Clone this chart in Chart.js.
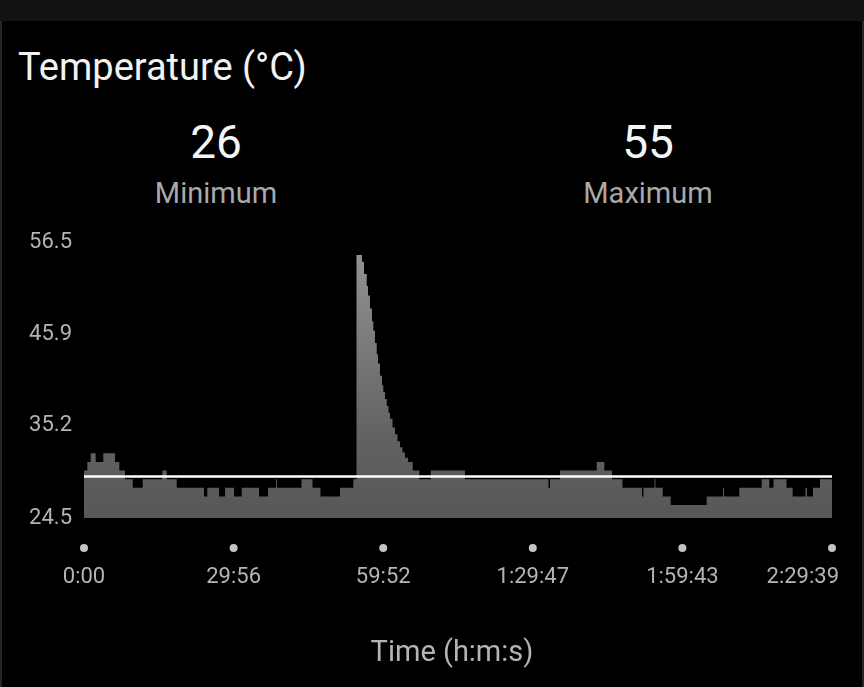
<!DOCTYPE html>
<html lang="en">
<head>
  <meta charset="UTF-8">
  <title>Temperature</title>
  <style>
    body {
      margin: 0;
      width: 864px;
      height: 687px;
      overflow: hidden;
      position: relative;
      background: #000;
      font-family: 'Roboto', sans-serif;
    }
    .topbar {
      position: absolute; left: 0; top: 0;
      width: 864px; height: 21px;
      background: #121212;
    }
    .edge {
      position: absolute; top: 21px; bottom: 0; width: 2px;
      background: #262626;
    }
    .titulo {
      position: absolute; left: 18px; top: 44px;
      font-size: 38px; line-height: 46px;
      color: #f2f2f2;
    }
    .stat {
      position: absolute; top: 116px; width: 432px;
      text-align: center;
    }
    .stat .num { font-size: 46px; line-height: 52px; color: #f5f5f5; }
    .stat .lab { font-size: 29px; line-height: 32px; color: #a9a9a9; margin-top: 9px; }
    .xtitle {
      position: absolute; left: 0; width: 904px; top: 634px;
      text-align: center;
      font-size: 29px; line-height: 34px; color: #b4b4b4;
    }
    #grafico { position: absolute; left: 0; top: 225px; }
  </style>
  <script src="https://cdn.jsdelivr.net/npm/chart.js"></script>
</head>
<body>
  <div class="topbar"></div>
  <div class="edge" style="left:0"></div>
  <div class="edge" style="right:0"></div>
  <div class="titulo">Temperature (°C)</div>
  <div class="stat" style="left:0"><div class="num">26</div><div class="lab">Minimum</div></div>
  <div class="stat" style="left:432px"><div class="num">55</div><div class="lab">Maximum</div></div>
  <canvas id="grafico" width="864" height="462"></canvas>
  <div class="xtitle">Time (h:m:s)</div>

  <script>
    // tiempos (s) donde cambia la lectura, y el valor que se mantiene desde ahi
    const tiempos = [0, 40, 80, 140, 232, 372, 424, 492, 585, 705, 940, 993, 1113, 1440, 1480, 1621, 1693, 1801, 1893, 2101,
      2209, 2305, 2317, 2611, 2743, 2839, 3073, 3233, 3271, 3337, 3361, 3394, 3409, 3433, 3457, 3473, 3493, 3514, 3529,
      3553, 3577, 3593, 3613, 3634, 3655, 3673, 3703, 3733, 3763, 3793, 3823, 3853, 3889, 3946, 4025, 4162, 4573, 5576,
      5594, 5714, 6155, 6246, 6338, 6464, 6698, 6716, 6848, 6860, 6947, 7043, 7475, 7671, 7683, 7866, 8135, 8226, 8277,
      8433, 8507, 8661, 8679, 8751, 8835, 8979];
    const temperaturas = [30, 31, 32, 31, 32, 31, 30, 29, 28, 29, 30, 29, 28, 27, 28, 27, 28, 27, 28, 27,
      28, 29, 28, 29, 28, 27, 28, 29, 55, 54.2, 52.8, 51.4, 50.3, 48.8, 47.3, 46.2, 44.8, 43.5, 42.4,
      41.0, 39.9, 39.1, 38.3, 37.5, 36.7, 36.0, 35.0, 34.2, 33.4, 32.7, 32.1, 31.5, 31.0, 30, 29, 30, 29, 28,
      29, 30, 31, 30, 29, 28, 27, 28, 29, 28, 27, 26, 27, 28, 27, 28, 29, 28, 29,
      28, 27, 28, 27, 28, 29, 29];
    const promedio = 29.3;

    const xTicks = [0, 1796, 3592, 5387, 7183, 8979];
    const xLabels = ['0:00', '29:56', '59:52', '1:29:47', '1:59:43', '2:29:39'];
    const yTicks = [24.5, 35.17, 45.83, 56.5];
    const yLabels = ['24.5', '35.2', '45.9', '56.5'];

    // puntos y etiquetas del eje x (la ultima se corre para no salirse)
    const ejeTiempo = {
      id: 'ejeTiempo',
      afterDraw(chart) {
        const c = chart.ctx;
        const sx = chart.scales.x;
        const base = chart.chartArea.bottom;
        c.save();
        c.font = '22px Roboto';
        c.textBaseline = 'middle';
        xTicks.forEach((v, i) => {
          const px = sx.getPixelForValue(v);
          c.fillStyle = '#c4c4c4';
          c.beginPath();
          c.arc(px, base + 30, 4, 0, Math.PI * 2);
          c.fill();
          const w = c.measureText(xLabels[i]).width;
          c.fillStyle = '#b4b4b4';
          if (px + w / 2 > chart.width - 25) {
            c.textAlign = 'right';
            c.fillText(xLabels[i], chart.width - 25, base + 59);
          } else {
            c.textAlign = 'center';
            c.fillText(xLabels[i], px, base + 59);
          }
        });
        c.restore();
      }
    };

    function relleno(ctx) {
      const area = ctx.chart.chartArea;
      if (!area) return '#5a5a5a';
      const g = ctx.chart.ctx.createLinearGradient(0, area.top, 0, area.bottom);
      g.addColorStop(0, '#959595');
      g.addColorStop(0.7, '#626262');
      g.addColorStop(1, '#575757');
      return g;
    }

    new Chart(document.getElementById('grafico'), {
      type: 'line',
      data: {
        datasets: [{
          data: [{ x: 0, y: promedio }, { x: tiempos[tiempos.length - 1], y: promedio }],
          borderColor: '#ffffff',
          borderWidth: 2.5,
          pointRadius: 0,
          fill: false,
          order: 0
        }, {
          data: tiempos.map((t, i) => ({ x: t, y: temperaturas[i] })),
          stepped: true,
          borderWidth: 0,
          borderColor: 'rgba(0,0,0,0)',
          backgroundColor: relleno,
          pointRadius: 0,
          fill: 'start',
          order: 1
        }]
      },
      options: {
        responsive: false,
        animation: false,
        layout: { padding: { top: 17, right: 32, left: 0, bottom: 0 } },
        plugins: { legend: { display: false }, tooltip: { enabled: false } },
        scales: {
          x: {
            type: 'linear',
            min: 0,
            max: 8979,
            afterBuildTicks: s => { s.ticks = xTicks.map(v => ({ value: v })); },
            afterFit: s => { s.height = 169; s.paddingLeft = 0; s.paddingRight = 0; },
            grid: { display: false, drawTicks: false },
            border: { display: false },
            ticks: { display: false }
          },
          y: {
            min: 24.5,
            max: 56.5,
            afterBuildTicks: s => { s.ticks = yTicks.map(v => ({ value: v })); },
            afterFit: s => { s.width = 84; s.paddingTop = 0; s.paddingBottom = 0; },
            grid: { display: false, drawTicks: false },
            border: { display: false },
            ticks: {
              padding: 12,
              color: '#b4b4b4',
              font: { family: 'Roboto', size: 22 },
              callback: (v, i) => yLabels[i]
            }
          }
        }
      },
      plugins: [ejeTiempo]
    });
  </script>
</body>
</html>
